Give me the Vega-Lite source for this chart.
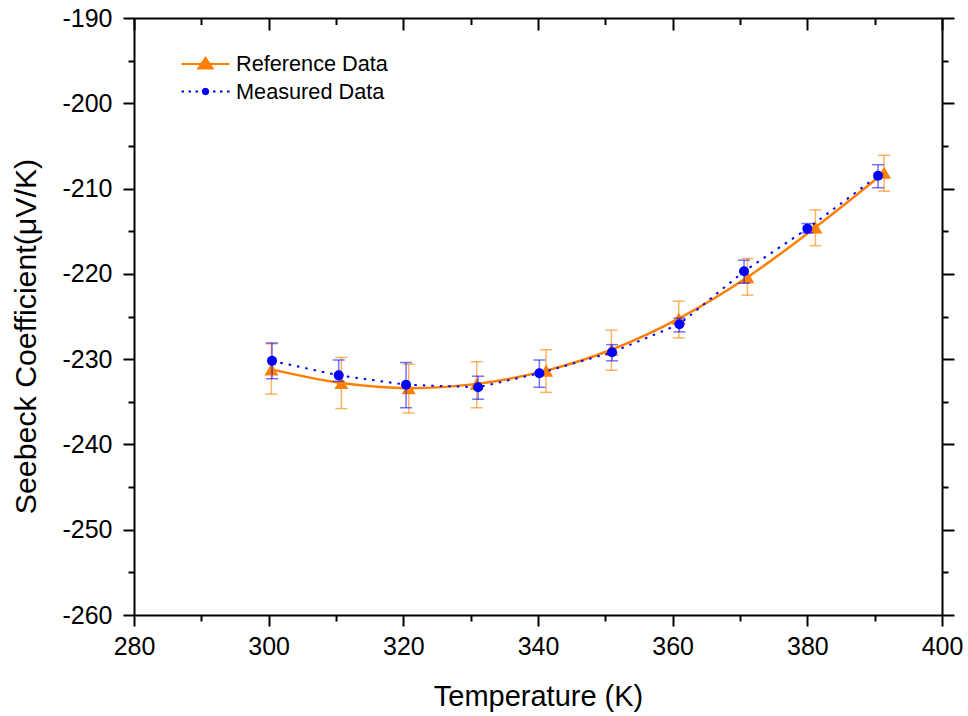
{
  "$schema": "https://vega.github.io/schema/vega-lite/v6.json",
  "autosize": {"type": "none"},
  "padding": {"left": 134, "top": 18, "right": 26, "bottom": 101},
  "width": 808,
  "height": 597,
  "background": "white",
  "data": {"values": [
    {"series": "Reference Data", "T": 300.4, "S": -231.2, "hi": -228.2, "lo": -234.1},
    {"series": "Reference Data", "T": 310.8, "S": -232.8, "hi": -229.8, "lo": -235.8},
    {"series": "Reference Data", "T": 320.8, "S": -233.4, "hi": -230.6, "lo": -236.3},
    {"series": "Reference Data", "T": 330.9, "S": -232.9, "hi": -230.3, "lo": -235.7},
    {"series": "Reference Data", "T": 341.2, "S": -231.35, "hi": -228.9, "lo": -233.9},
    {"series": "Reference Data", "T": 350.9, "S": -228.9, "hi": -226.6, "lo": -231.3},
    {"series": "Reference Data", "T": 360.9, "S": -225.25, "hi": -223.2, "lo": -227.5},
    {"series": "Reference Data", "T": 371.1, "S": -220.4, "hi": -218.2, "lo": -222.5},
    {"series": "Reference Data", "T": 381.2, "S": -214.55, "hi": -212.5, "lo": -216.7},
    {"series": "Reference Data", "T": 391.4, "S": -208.15, "hi": -206.1, "lo": -210.3},
    {"series": "Measured Data", "T": 300.5, "S": -230.2, "hi": -228.1, "lo": -232.3},
    {"series": "Measured Data", "T": 310.4, "S": -231.9, "hi": -230.1, "lo": -232.6},
    {"series": "Measured Data", "T": 320.4, "S": -233.0, "hi": -230.4, "lo": -235.7},
    {"series": "Measured Data", "T": 331.1, "S": -233.3, "hi": -232.0, "lo": -234.7},
    {"series": "Measured Data", "T": 340.2, "S": -231.65, "hi": -230.1, "lo": -233.3},
    {"series": "Measured Data", "T": 351.0, "S": -229.2, "hi": -228.3, "lo": -230.2},
    {"series": "Measured Data", "T": 361.0, "S": -225.9, "hi": -225.2, "lo": -226.8},
    {"series": "Measured Data", "T": 370.6, "S": -219.7, "hi": -218.4, "lo": -221.1},
    {"series": "Measured Data", "T": 380.0, "S": -214.7, "hi": -214.1, "lo": -215.2},
    {"series": "Measured Data", "T": 390.5, "S": -208.5, "hi": -207.2, "lo": -209.9}
  ]},
  "resolve": {"axis": {"x": "independent", "y": "independent"}},
  "layer": [
    {
      "transform": [{"filter": "datum.series === 'Reference Data'"}],
      "mark": {"type": "errorbar", "color": "#FF8000", "opacity": 0.6, "ticks": {"size": 12, "thickness": 1.5}, "rule": {"strokeWidth": 1.5}},
      "encoding": {
        "x": {"field": "T", "type": "quantitative", "axis": null, "scale": {"domain": [280, 400], "nice": false, "zero": false}},
        "y": {"field": "hi", "type": "quantitative", "axis": null, "scale": {"domain": [-260, -190], "nice": false, "zero": false}},
        "y2": {"field": "lo"}
      }
    },
    {
      "transform": [{"filter": "datum.series === 'Reference Data'"}],
      "mark": {"type": "line", "color": "#FF8000", "strokeWidth": 2.5, "interpolate": "monotone"},
      "encoding": {
        "x": {"field": "T", "type": "quantitative", "scale": {"domain": [280, 400], "nice": false, "zero": false},
          "axis": {
            "orient": "bottom",
            "values": [280, 290, 300, 310, 320, 330, 340, 350, 360, 370, 380, 390, 400],
            "labelExpr": "datum.value % 20 === 0 ? '' + datum.value : ''",
            "tickSize": {"condition": {"test": "datum.value % 20 !== 0", "value": 6}, "value": 11},
            "labelPadding": 8,
            "title": "Temperature (K)",
            "titleFontSize": 29,
            "titleBaseline": "alphabetic",
            "titleY": 90
          }
        },
        "y": {"field": "S", "type": "quantitative", "scale": {"domain": [-260, -190], "nice": false, "zero": false},
          "axis": {
            "orient": "left",
            "values": [-260, -255, -250, -245, -240, -235, -230, -225, -220, -215, -210, -205, -200, -195, -190],
            "labelExpr": "datum.value % 10 === 0 ? '-' + abs(datum.value) : ''",
            "tickSize": {"condition": {"test": "datum.value % 10 !== 0", "value": 6}, "value": 11},
            "labelPadding": 11,
            "title": "Seebeck Coefficient(μV/K)",
            "titleFontSize": 30.3,
            "titleBaseline": "alphabetic",
            "titleX": -99,
            "titleY": 318
          }
        }
      }
    },
    {
      "transform": [{"filter": "datum.series === 'Reference Data'"}],
      "mark": {"type": "point", "shape": "triangle-up", "filled": true, "size": 196, "color": "#FF8000", "opacity": 1},
      "encoding": {
        "x": {"field": "T", "type": "quantitative", "axis": null, "scale": {"domain": [280, 400], "nice": false, "zero": false}},
        "y": {"field": "S", "type": "quantitative", "axis": null, "scale": {"domain": [-260, -190], "nice": false, "zero": false}}
      }
    },
    {
      "transform": [{"filter": "datum.series === 'Measured Data'"}],
      "mark": {"type": "errorbar", "color": "#0000FF", "opacity": 0.55, "ticks": {"size": 12, "thickness": 1.5}, "rule": {"strokeWidth": 1.5}},
      "encoding": {
        "x": {"field": "T", "type": "quantitative", "axis": null, "scale": {"domain": [280, 400], "nice": false, "zero": false}},
        "y": {"field": "hi", "type": "quantitative", "axis": null, "scale": {"domain": [-260, -190], "nice": false, "zero": false}},
        "y2": {"field": "lo"}
      }
    },
    {
      "transform": [{"filter": "datum.series === 'Measured Data'"}],
      "mark": {"type": "line", "color": "#0000FF", "strokeWidth": 2, "strokeDash": [2.5, 6], "interpolate": "linear"},
      "encoding": {
        "x": {"field": "T", "type": "quantitative", "axis": null, "scale": {"domain": [280, 400], "nice": false, "zero": false}},
        "y": {"field": "S", "type": "quantitative", "axis": null, "scale": {"domain": [-260, -190], "nice": false, "zero": false}}
      }
    },
    {
      "transform": [{"filter": "datum.series === 'Measured Data'"}],
      "mark": {"type": "point", "shape": "circle", "filled": true, "size": 100, "color": "#0000FF", "opacity": 1},
      "encoding": {
        "x": {"field": "T", "type": "quantitative", "axis": null, "scale": {"domain": [280, 400], "nice": false, "zero": false}},
        "y": {"field": "S", "type": "quantitative", "axis": null, "scale": {"domain": [-260, -190], "nice": false, "zero": false}}
      }
    },
    {
      "transform": [{"filter": "false"}],
      "mark": {"type": "point", "filled": true},
      "encoding": {
        "x": {"field": "T", "type": "quantitative", "scale": {"domain": [280, 400], "nice": false, "zero": false},
          "axis": {
            "orient": "top",
            "values": [280, 290, 300, 310, 320, 330, 340, 350, 360, 370, 380, 390, 400],
            "labels": false,
            "title": null,
            "tickSize": {"condition": {"test": "datum.value % 20 !== 0", "value": -6.5}, "value": -12}
          }
        },
        "y": {"field": "S", "type": "quantitative", "scale": {"domain": [-260, -190], "nice": false, "zero": false},
          "axis": {
            "orient": "right",
            "values": [-260, -255, -250, -245, -240, -235, -230, -225, -220, -215, -210, -205, -200, -195, -190],
            "labels": false,
            "title": null,
            "tickSize": {"condition": {"test": "datum.value % 10 !== 0", "value": 6}, "value": 12}
          }
        },
        "shape": {"field": "series", "type": "nominal",
          "scale": {"domain": ["Reference Data", "Measured Data"], "range": ["M-2.4,0L2.4,0M-0.7,0.45L0.7,0.45L0,-0.6Z", "M-2.4,0L-2.15,0M-1.7,0L-1.45,0M-1,0L-0.75,0M0.75,0L1,0M1.45,0L1.7,0M2.15,0L2.4,0M0.26,0L0.22,0.13L0.13,0.22L0,0.26L-0.13,0.22L-0.22,0.13L-0.26,0L-0.22,-0.13L-0.13,-0.22L0,-0.26L0.13,-0.22L0.22,-0.13Z"]},
          "legend": {"title": null, "orient": "none", "legendX": 60, "legendY": 34.5, "symbolSize": 400, "symbolStrokeWidth": 2.2, "symbolOpacity": 1, "labelFontSize": 21.7, "labelOffset": 19, "rowPadding": 3.5, "padding": 0,
            "encode": {"symbols": {"update": {"fill": {"scale": "fill", "field": "value"}, "stroke": {"scale": "stroke", "field": "value"}}}}}
        },
        "fill": {"field": "series", "type": "nominal",
          "scale": {"domain": ["Reference Data", "Measured Data"], "range": ["#FF8000", "#0000FF"]},
          "legend": {"title": null, "orient": "none", "legendX": 60, "legendY": 34.5, "symbolSize": 400, "symbolStrokeWidth": 2.2, "symbolOpacity": 1, "labelFontSize": 21.7, "labelOffset": 19, "rowPadding": 3.5, "padding": 0,
            "encode": {"symbols": {"update": {"fill": {"scale": "fill", "field": "value"}, "stroke": {"scale": "stroke", "field": "value"}}}}}
        },
        "stroke": {"field": "series", "type": "nominal",
          "scale": {"domain": ["Reference Data", "Measured Data"], "range": ["#FF8000", "#0000FF"]},
          "legend": {"title": null, "orient": "none", "legendX": 60, "legendY": 34.5, "symbolSize": 400, "symbolStrokeWidth": 2.2, "symbolOpacity": 1, "labelFontSize": 21.7, "labelOffset": 19, "rowPadding": 3.5, "padding": 0,
            "encode": {"symbols": {"update": {"fill": {"scale": "fill", "field": "value"}, "stroke": {"scale": "stroke", "field": "value"}}}}}
        }
      }
    }
  ],
  "config": {
    "view": {"stroke": null},
    "font": "Liberation Sans",
    "axis": {
      "grid": false,
      "domainColor": "black",
      "domainWidth": 2,
      "tickColor": "black",
      "tickWidth": 2,
      "labelFont": "Liberation Sans",
      "labelFontSize": 25,
      "labelColor": "black",
      "labelFlush": false,
      "labelOverlap": false,
      "titleFont": "Liberation Sans",
      "titleFontWeight": "normal",
      "titleColor": "black"
    },
    "legend": {"labelFont": "Liberation Sans", "labelColor": "black"}
  }
}
